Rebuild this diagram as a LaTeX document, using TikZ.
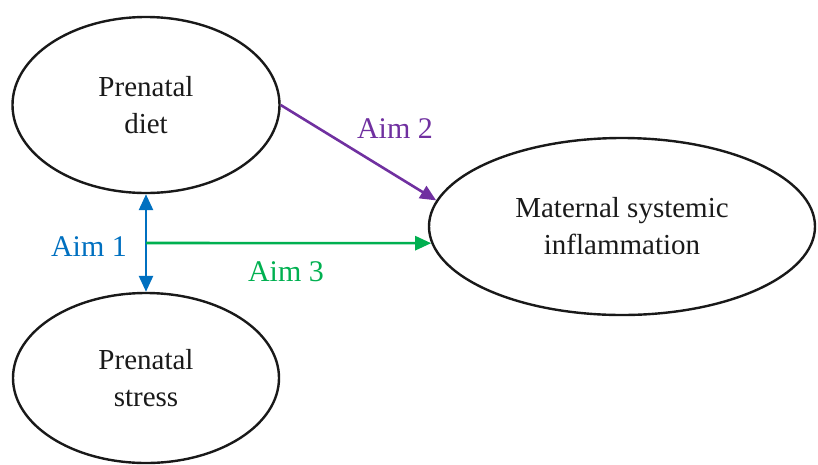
\documentclass[tikz,border=0pt]{standalone}
\usepackage{fontspec}
\usetikzlibrary{arrows.meta,shapes.geometric}
\newfontfamily\aimfont{Liberation Serif}
\definecolor{aimblue}{HTML}{0070C0}
\definecolor{aimgreen}{HTML}{00B050}
\definecolor{aimpurple}{HTML}{7030A0}
\definecolor{txtgray}{HTML}{1A1A1A}
\begin{document}
\begin{tikzpicture}[x=1pt,y=-1pt,
  blob/.style={ellipse,draw=black!90,line width=2.4pt,inner sep=0pt,align=center,
    text=txtgray,font=\aimfont\fontsize{29}{37}\selectfont},
  aimarrow/.style={line width=2.6pt,-{Triangle[length=16pt,width=14pt]}},
  aimlabel/.style={font=\aimfont\fontsize{30}{34}\selectfont,inner sep=0pt}]
\useasboundingbox (0,0) rectangle (818,464);
\node[blob,minimum width=267pt,minimum height=176pt] (diet) at (146,105) {Prenatal\\diet};
\node[blob,minimum width=266pt,minimum height=170pt] (stress) at (146,378) {Prenatal\\stress};
\node[blob,minimum width=386pt,minimum height=177pt] (infl) at (622,226.5) {Maternal systemic\\inflammation};
\draw[aimarrow,aimblue,{Triangle[length=16pt,width=14pt]}-{Triangle[length=16pt,width=14pt]}] (diet.south) -- (stress.north);
\coordinate (g) at (146,243);
\draw[aimarrow,aimgreen] (g) -- (infl.185.6);
\draw[aimarrow,aimpurple] (diet.east) -- (infl.172);
\node[aimlabel,text=aimblue] (a1) at (89,247) {Aim 1};
\node[aimlabel,text=aimpurple] (a2) at (395,129) {Aim 2};
\node[aimlabel,text=aimgreen] (a3) at (286,272) {Aim 3};
\end{tikzpicture}
\end{document}
